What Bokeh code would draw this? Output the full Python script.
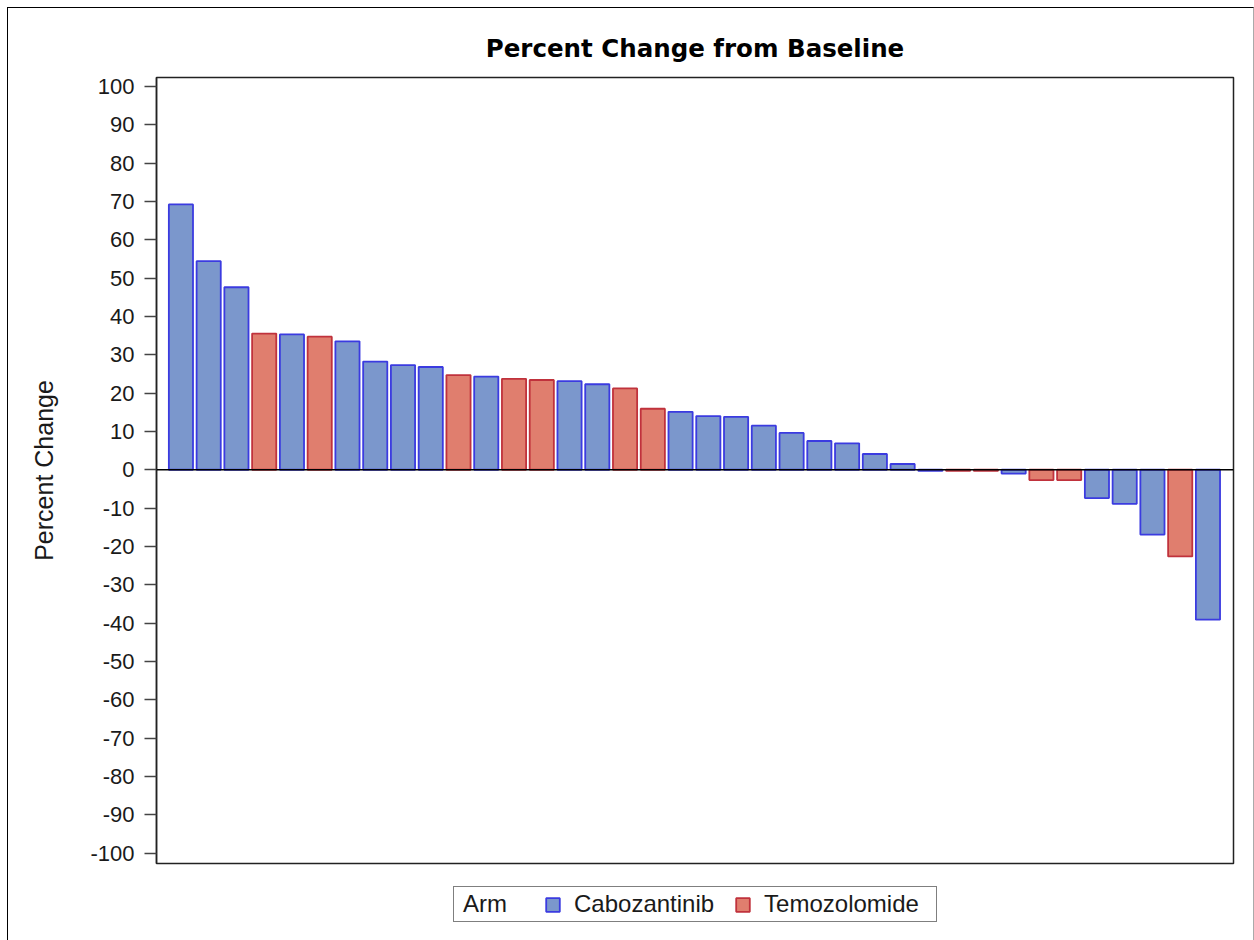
from bokeh.plotting import figure
from bokeh.layouts import column
from bokeh.models import ColumnDataSource, Range1d, Span, Legend, LegendItem, FixedTicker
from bokeh.embed import file_html
from bokeh.resources import INLINE

# ---- data ----
values = [69.2, 54.4, 47.6, 35.5, 35.3, 34.7, 33.5, 28.2, 27.3, 26.8,
          24.7, 24.3, 23.7, 23.4, 23.1, 22.3, 21.2, 15.9, 15.1, 14.0,
          13.8, 11.5, 9.6, 7.5, 6.9, 4.1, 1.5, -0.3, -0.3, -0.3,
          -1.0, -2.7, -2.7, -7.4, -8.9, -16.9, -22.6, -39.1]
arms = ["Cabozantinib", "Cabozantinib", "Cabozantinib", "Temozolomide", "Cabozantinib",
        "Temozolomide", "Cabozantinib", "Cabozantinib", "Cabozantinib", "Cabozantinib",
        "Temozolomide", "Cabozantinib", "Temozolomide", "Temozolomide", "Cabozantinib",
        "Cabozantinib", "Temozolomide", "Temozolomide", "Cabozantinib", "Cabozantinib",
        "Cabozantinib", "Cabozantinib", "Cabozantinib", "Cabozantinib", "Cabozantinib",
        "Cabozantinib", "Cabozantinib", "Cabozantinib", "Temozolomide", "Temozolomide",
        "Cabozantinib", "Temozolomide", "Temozolomide", "Cabozantinib", "Cabozantinib",
        "Cabozantinib", "Temozolomide", "Cabozantinib"]
arm_names = ["Cabozantinib", "Temozolomide"]
y_ticks = list(range(-100, 101, 10))
y_tick_labels = {t: str(t) for t in y_ticks}
title_text = "Percent Change from Baseline"
y_label = "Percent Change"
legend_title = "Arm"

# ---- styles ----
fills = {"Cabozantinib": "#7B97CC", "Temozolomide": "#E07E6E"}
lines = {"Cabozantinib": "#3B3BE0", "Temozolomide": "#C0323C"}
FONT = "Liberation Sans"
TXT = "#1a1a1a"
W = 1245

positions = list(range(1, len(values) + 1))

p = figure(width=W, height=862, output_backend="svg", toolbar_location=None,
           x_range=Range1d(0.12, len(values) + 0.92),
           y_range=Range1d(-102.7, 102.3),
           title=title_text,
           min_border_left=148, min_border_right=20,
           min_border_top=69, min_border_bottom=7)

p.title.align = "center"
p.title.text_font = "DejaVu Sans"
p.title.text_font_style = "bold"
p.title.text_font_size = "24.5px"
p.title.text_color = "black"
p.title.standoff = 29

p.xgrid.visible = False
p.ygrid.visible = False
p.xaxis.visible = False

p.outline_line_color = "#222222"
p.outline_line_width = 1.5

ya = p.yaxis[0]
ya.ticker = FixedTicker(ticks=y_ticks)
ya.major_label_overrides = y_tick_labels
ya.minor_tick_line_color = None
ya.major_tick_in = 0
ya.major_tick_out = 12
ya.major_tick_line_color = "#444444"
ya.major_tick_line_width = 1.5
ya.axis_line_color = "#222222"
ya.axis_line_width = 1.5
ya.major_label_standoff = 10
ya.major_label_text_font = FONT
ya.major_label_text_font_size = "22px"
ya.major_label_text_color = TXT
ya.axis_label = y_label
ya.axis_label_text_font = FONT
ya.axis_label_text_font_size = "25px"
ya.axis_label_text_font_style = "normal"
ya.axis_label_text_color = TXT
ya.axis_label_standoff = 29

for name in arm_names:
    idx = [i for i, a in enumerate(arms) if a == name]
    src = ColumnDataSource(dict(x=[positions[i] for i in idx],
                                top=[values[i] for i in idx]))
    p.vbar(x="x", top="top", bottom=0, width=0.87, source=src,
           fill_color=fills[name], line_color=lines[name], line_width=1.8)

p.add_layout(Span(location=0, dimension="width", line_color="black", line_width=1.5))

# ---- legend strip below the chart (its frame is aligned with the chart's frame) ----
lf = figure(width=W, height=70, output_backend="svg", toolbar_location=None,
            x_range=Range1d(0, 1), y_range=Range1d(0, 1),
            min_border_left=148, min_border_right=20, min_border_top=0, min_border_bottom=0,
            x_axis_location=None, y_axis_location=None)
lf.xgrid.visible = False
lf.ygrid.visible = False
lf.outline_line_color = None

# swatch carriers: one undefined (NaN) row each, so nothing is drawn but the legend swatch
nan = float("nan")
swatches = {n: lf.vbar(x=[nan], top=[nan], bottom=0, width=0.87,
                       fill_color=fills[n], line_color=lines[n], line_width=1.8)
            for n in arm_names}
head = lf.vbar(x=[nan], top=[nan], bottom=0, width=0.87, fill_alpha=0, line_alpha=0)

PAD = 3
legend_head = Legend(items=[LegendItem(label=legend_title, renderers=[head])],
                     location=(297, 18), orientation="horizontal",
                     glyph_width=0, glyph_height=17, label_standoff=6,
                     label_width=470, padding=PAD, margin=0,
                     label_text_font=FONT, label_text_font_size="24px",
                     label_text_color=TXT,
                     border_line_color="black", border_line_width=1,
                     background_fill_color="white", background_fill_alpha=1)
legend_items = Legend(items=[LegendItem(label=n, renderers=[swatches[n]]) for n in arm_names],
                      location=(388, 22), orientation="horizontal",
                      glyph_width=17, glyph_height=17, label_standoff=13,
                      spacing=20, padding=PAD, margin=0,
                      label_text_font=FONT, label_text_font_size="24px",
                      label_text_color=TXT,
                      border_line_color=None, background_fill_alpha=0)
lf.add_layout(legend_head, "center")
lf.add_layout(legend_items, "center")

page = column(p, lf, spacing=0)
page.styles = {"margin-left": "7px", "margin-top": "7px",
               "border-top": "1px solid black", "border-left": "1px solid black",
               "border-right": "1px solid #aaaaaa"}

open("out.html", "w").write(file_html(page, INLINE))
